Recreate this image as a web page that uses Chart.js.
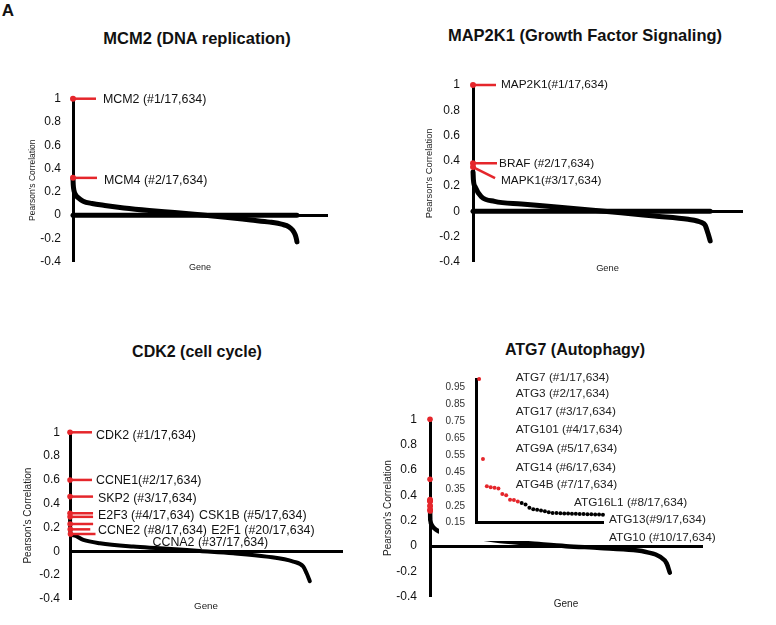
<!DOCTYPE html>
<html>
<head>
<meta charset="utf-8">
<script src="https://cdn.jsdelivr.net/npm/chart.js@4.4.1/dist/chart.umd.min.js"></script>
<style>
  html, body { margin: 0; padding: 0; background: #fff; }
  #page { position: relative; width: 776px; height: 625px; overflow: hidden; font-family: "Liberation Sans", Arial, sans-serif; }
  canvas { position: absolute; }
  .title { position: absolute; transform: translate(-50%, -50%); font-weight: bold; font-size: 16px; white-space: nowrap; color: #111; line-height: 1; }
</style>
</head>
<body>
<div id="page">
  <div class="title" style="left:8px;top:10px;font-size:17px">A</div>
  <div class="title" style="left:197px;top:38px;font-size:16.5px">MCM2 (DNA replication)</div>
  <div class="title" style="left:585px;top:35px;font-size:16.5px">MAP2K1 (Growth Factor Signaling)</div>
  <div class="title" style="left:197px;top:352px">CDK2 (cell cycle)</div>
  <div class="title" style="left:575px;top:350px">ATG7 (Autophagy)</div>
  <canvas id="mcm"></canvas>
  <canvas id="map"></canvas>
  <canvas id="cdk"></canvas>
  <canvas id="atg"></canvas>
  <canvas id="atgInset"></canvas>
</div>
<script>
// ---- data (rank of gene, Pearson's correlation) ----
const yTicks = [-0.4, -0.2, 0, 0.2, 0.4, 0.6, 0.8, 1];
const insetTicks = [0.15, 0.25, 0.35, 0.45, 0.55, 0.65, 0.75, 0.85, 0.95];

// genes pinned at zero (thick band along the x axis)
const bandRank = [1, 17634];
const bandCorr = [0, 0];

// MCM2
const mcmRank = [2, 20, 80, 200, 400, 800, 1500, 2500, 4000, 6000, 8000, 10000, 12000, 14000, 15500, 16500, 17000, 17300, 17500, 17600, 17634];
const mcmCorr = [0.31, 0.26, 0.21, 0.175, 0.15, 0.12, 0.1, 0.083, 0.062, 0.04, 0.022, 0.003, -0.018, -0.042, -0.06, -0.08, -0.1, -0.13, -0.17, -0.21, -0.23];
const mcmHitRank = [1, 2];
const mcmHitCorr = [1, 0.32];
const mcmHitLabel = ['MCM2 (#1/17,634)', 'MCM4 (#2/17,634)'];

// MAP2K1
const mapRank = [4, 30, 173, 620, 1600, 3600, 6000, 8500, 11000, 13500, 16000, 17000, 17250, 17470, 17634];
const mapCorr = [0.31, 0.25, 0.19, 0.115, 0.078, 0.057, 0.036, 0.012, -0.012, -0.038, -0.064, -0.09, -0.11, -0.175, -0.235];
const mapHitRank = [1, 2, 3];
const mapHitCorr = [1, 0.38, 0.35];
const mapHitLabel = ['MAP2K1(#1/17,634)', 'BRAF (#2/17,634)', 'MAPK1(#3/17,634)'];

// CDK2
const cdkRank = [4, 5, 8, 20, 37, 245, 980, 2200, 4650, 6600, 9560, 12000, 14460, 16420, 17150, 17400, 17634];
const cdkCorr = [0.32, 0.29, 0.23, 0.185, 0.146, 0.135, 0.096, 0.068, 0.04, 0.026, 0.003, -0.016, -0.044, -0.086, -0.128, -0.184, -0.25];
const cdkHitRank = [1, 2, 3, 4, 5, 8, 20, 37];
const cdkHitCorr = [1, 0.6, 0.46, 0.32, 0.29, 0.23, 0.185, 0.146];
const cdkHitLabel = ['CDK2 (#1/17,634)', 'CCNE1(#2/17,634)', 'SKP2 (#3/17,634)', 'E2F3 (#4/17,634)',
  'CSK1B (#5/17,634)', 'CCNE2 (#8/17,634)', 'E2F1 (#20/17,634)', 'CCNA2 (#37/17,634)'];

// ATG7
const atgHitRank = [1, 2, 3, 4, 5, 6, 7, 8, 9, 10, 11];
const atgHitCorr = [1, 0.527, 0.366, 0.36, 0.356, 0.352, 0.32, 0.312, 0.286, 0.284, 0.276];
const atgNextRank = [12, 13, 14, 15, 16, 17, 18, 19, 20, 21, 22, 23, 24, 25, 26, 27, 28, 29, 30, 31, 32, 33];
const atgNextCorr = [0.266, 0.258, 0.238, 0.23, 0.226, 0.222, 0.218, 0.212, 0.208, 0.207, 0.206, 0.205,
  0.204, 0.203, 0.203, 0.202, 0.201, 0.2, 0.2, 0.199, 0.198, 0.197];
const atgTailRank = [125, 490, 1500, 3000, 5150, 8000, 10000, 12500, 14950, 16000, 16900, 17400, 17634];
const atgTailCorr = [0.166, 0.126, 0.095, 0.07, 0.04, 0.015, -0.001, -0.015, -0.032, -0.05, -0.084, -0.137, -0.21];
const atgHitLabel = ['ATG7 (#1/17,634)', 'ATG3 (#2/17,634)', 'ATG17 (#3/17,634)', 'ATG101 (#4/17,634)',
  'ATG9A (#5/17,634)', 'ATG14 (#6/17,634)', 'ATG4B (#7/17,634)', 'ATG16L1 (#8/17,634)',
  'ATG13(#9/17,634)', 'ATG10 (#10/17,634)'];

// ---- drawing ----
const RED = '#e5262b';
const FONT = '"Liberation Sans", Arial, sans-serif';
const toPoints = (xs, ys) => xs.map((x, i) => ({ x: x, y: ys[i] }));

function curve(xs, ys, width, order) {
    return {
        data: toPoints(xs, ys), order: order, clip: false,
        borderColor: '#000', borderWidth: width, pointRadius: 0,
        cubicInterpolationMode: 'monotone', borderCapStyle: 'round', borderJoinStyle: 'round',
        xAxisID: 'x', yAxisID: 'y'
    };
}
function hitDots(xs, ys, r) {
    return {
        label: 'hits', data: toPoints(xs, ys), order: 0, showLine: false, clip: false,
        pointRadius: r, pointBorderWidth: 0, backgroundColor: RED, borderColor: RED,
        xAxisID: 'x', yAxisID: 'y'
    };
}

// red leader lines + gene labels
const hitLines = {
    id: 'hitLines',
    afterDatasetsDraw(chart, args, opts) {
        if (!opts.items || !opts.items.length) return;
        const ctx = chart.ctx, xs = chart.scales.x, ys = chart.scales.y;
        const hits = chart.data.datasets.find(d => d.label === 'hits').data;
        ctx.save();
        ctx.font = opts.fontSize + 'px ' + FONT;
        ctx.textBaseline = 'middle';
        opts.items.forEach((it, i) => {
            const x0 = xs.getPixelForValue(hits[i].x), y0 = ys.getPixelForValue(hits[i].y);
            ctx.strokeStyle = RED;
            ctx.lineWidth = 2.5;
            ctx.beginPath();
            ctx.moveTo(x0, y0);
            ctx.lineTo(x0 + it.len, y0 + (it.drop || 0));
            ctx.stroke();
            ctx.fillStyle = '#111';
            ctx.fillText(opts.text[i], x0 + it.dx, y0 + it.dy);
        });
        ctx.restore();
    }
};

function place(el, c) {
    el.width = c.w; el.height = c.h;
    el.style.left = c.left + 'px'; el.style.top = c.top + 'px';
}

function makePanel(id, box, datasets, labels) {
    const c = box.canvas, a = box.area;
    const el = document.getElementById(id);
    place(el, c);
    const yLh = box.yTitleSize * 1.2, gLh = box.geneSize * 1.2;
    const genePadTop = box.geneY - a.B - gLh / 2;
    return new Chart(el, {
        type: 'line',
        data: { datasets: datasets },
        plugins: [hitLines],
        options: {
            responsive: false, animation: false, devicePixelRatio: 1, events: [],
            layout: {
                padding: {
                    left: 0, top: a.T - c.top, right: c.left + c.w - a.R,
                    bottom: c.top + c.h - (a.B + gLh + genePadTop)
                }
            },
            plugins: { legend: { display: false }, tooltip: { enabled: false }, hitLines: labels },
            scales: {
                x: {
                    type: 'linear', min: 0, max: 20000, position: { y: 0 },
                    grid: { display: false, drawTicks: false }, ticks: { display: false },
                    border: { color: '#000', width: 3 }
                },
                g: {
                    type: 'linear', min: 0, max: 1, position: 'bottom',
                    grid: { display: false, drawTicks: false }, ticks: { display: false },
                    border: { display: false },
                    title: {
                        display: true, text: 'Gene', color: '#222',
                        font: { family: FONT, size: box.geneSize }, padding: { top: genePadTop, bottom: 0 }
                    }
                },
                y: {
                    type: 'linear', min: -0.4, max: 1,
                    afterBuildTicks: s => { s.ticks = yTicks.map(v => ({ value: v })); },
                    afterFit: s => { s.width = a.L - c.left; },
                    grid: { display: false, drawTicks: false },
                    border: { color: '#000', width: 3 },
                    ticks: {
                        color: '#111', padding: box.tickPad, font: { family: FONT, size: 12 },
                        callback: v => String(Number(v.toFixed(1)))
                    },
                    title: {
                        display: true, text: "Pearson's Correlation", color: '#222',
                        font: { family: FONT, size: box.yTitleSize },
                        padding: { top: box.yTitleX - c.left - yLh / 2, bottom: 0 }
                    }
                }
            }
        }
    });
}

// MCM2
makePanel('mcm', {
    canvas: { left: 0, top: 50, w: 388, h: 240 }, area: { L: 73, T: 98.7, R: 327, B: 261.7 },
    yTitleX: 33, yTitleSize: 8.5, geneY: 268, geneSize: 9, tickPad: 12
}, [
    hitDots(mcmHitRank, mcmHitCorr, 3),
    curve(mcmRank, mcmCorr, 5, 1),
    curve(bandRank, bandCorr, 5, 2)
], {
    fontSize: 12.4, text: mcmHitLabel,
    items: [{ len: 23, dx: 30, dy: 0.6 }, { len: 24, dx: 31, dy: 3 }]
});

// MAP2K1
makePanel('map', {
    canvas: { left: 388, top: 50, w: 388, h: 240 }, area: { L: 473, T: 85, R: 742, B: 261.7 },
    yTitleX: 429.7, yTitleSize: 9.4, geneY: 268, geneSize: 9.3, tickPad: 13
}, [
    hitDots(mapHitRank, mapHitCorr, 3),
    curve(mapRank, mapCorr, 5, 1),
    curve(bandRank, bandCorr, 5, 2)
], {
    fontSize: 11.8, text: mapHitLabel,
    items: [{ len: 23, dx: 28, dy: 0 }, { len: 24, dx: 26, dy: 0.3 }, { len: 22, drop: 11, dx: 28, dy: 14 }]
});

// CDK2
makePanel('cdk', {
    canvas: { left: 0, top: 380, w: 388, h: 245 }, area: { L: 70, T: 432.3, R: 342, B: 599 },
    yTitleX: 28, yTitleSize: 10, geneY: 606.7, geneSize: 9.8, tickPad: 10
}, [
    hitDots(cdkHitRank, cdkHitCorr, 2.8),
    curve(cdkRank, cdkCorr, 4, 1)
], {
    fontSize: 12.4, text: cdkHitLabel,
    items: [
        { len: 22, dx: 26, dy: 3.5 }, { len: 22, dx: 26, dy: 0.7 }, { len: 23, dx: 28, dy: 2.3 },
        { len: 23, dx: 28, dy: 2.7 }, { len: 23, dx: 129, dy: -0.9 }, { len: 23, dx: 28, dy: 7 },
        { len: 20, dx: 141, dy: 1.6 }, { len: 25, dx: 82, dy: 8.7 }
    ]
});

// ATG7 main panel
makePanel('atg', {
    canvas: { left: 376, top: 380, w: 400, h: 245 }, area: { L: 430, T: 419.3, R: 702, B: 596.7 },
    yTitleX: 388.3, yTitleSize: 10, geneY: 604, geneSize: 10, tickPad: 13
}, [
    hitDots(atgHitRank, atgHitCorr, 2.8),
    curve(atgNextRank.concat(atgTailRank), atgNextCorr.concat(atgTailCorr), 4.5, 1)
], { items: [] });

// ATG7 zoomed inset (white panel laid over the main chart)
const insetPanel = {
    id: 'insetPanel',
    beforeDraw(chart, args, opts) {
        const ctx = chart.ctx;
        ctx.save();
        ctx.fillStyle = '#fff';
        ctx.fillRect(0, 0, chart.width, opts.bgHeight);
        ctx.restore();
    },
    afterDatasetsDraw(chart, args, opts) {
        const ctx = chart.ctx, ca = chart.chartArea;
        ctx.save();
        ctx.font = opts.fontSize + 'px ' + FONT;
        ctx.textBaseline = 'middle';
        ctx.fillStyle = '#222';
        opts.pos.forEach((p, i) => ctx.fillText(atgHitLabel[i], ca.left + p[0], ca.top + p[1]));
        ctx.restore();
    }
};

(function () {
    const c = { left: 439, top: 362, w: 337, h: 190 };
    const a = { L: 476, T: 378.3, R: 603.3, B: 522.7 };
    const el = document.getElementById('atgInset');
    place(el, c);
    const ranks = atgHitRank.concat(atgNextRank);
    const corr = atgHitCorr.concat(atgNextCorr);
    new Chart(el, {
        type: 'line',
        data: {
            datasets: [{
                data: toPoints(ranks, corr), showLine: false, clip: false,
                pointRadius: 2, pointBorderWidth: 0,
                pointBackgroundColor: ranks.map((r, i) => i < atgHitRank.length ? RED : '#000')
            }]
        },
        plugins: [insetPanel],
        options: {
            responsive: false, animation: false, devicePixelRatio: 1, events: [],
            layout: { padding: { left: 0, top: a.T - c.top, right: c.left + c.w - a.R, bottom: c.top + c.h - a.B } },
            plugins: {
                legend: { display: false }, tooltip: { enabled: false },
                insetPanel: {
                    bgHeight: 541 - c.top, fontSize: 11.8,
                    pos: [[39.7, -1.6], [39.7, 15], [39.7, 32.7], [39.7, 50.7], [39.7, 70], [39.7, 88.4],
                          [39.7, 106], [98, 124], [133, 141], [133, 159]]
                }
            },
            scales: {
                x: {
                    type: 'linear', min: 0.2, max: 33.1, position: 'bottom',
                    grid: { display: false, drawTicks: false }, ticks: { display: false },
                    border: { color: '#000', width: 3 }
                },
                y: {
                    type: 'linear', min: 0.15, max: 1,
                    afterBuildTicks: s => { s.ticks = insetTicks.map(v => ({ value: v })); },
                    afterFit: s => { s.width = a.L - c.left; },
                    grid: { display: false, drawTicks: false },
                    border: { color: '#000', width: 3 },
                    ticks: {
                        color: '#333', padding: 11, font: { family: FONT, size: 10 },
                        callback: v => v.toFixed(2)
                    }
                }
            }
        }
    });
})();
</script>
</body>
</html>
